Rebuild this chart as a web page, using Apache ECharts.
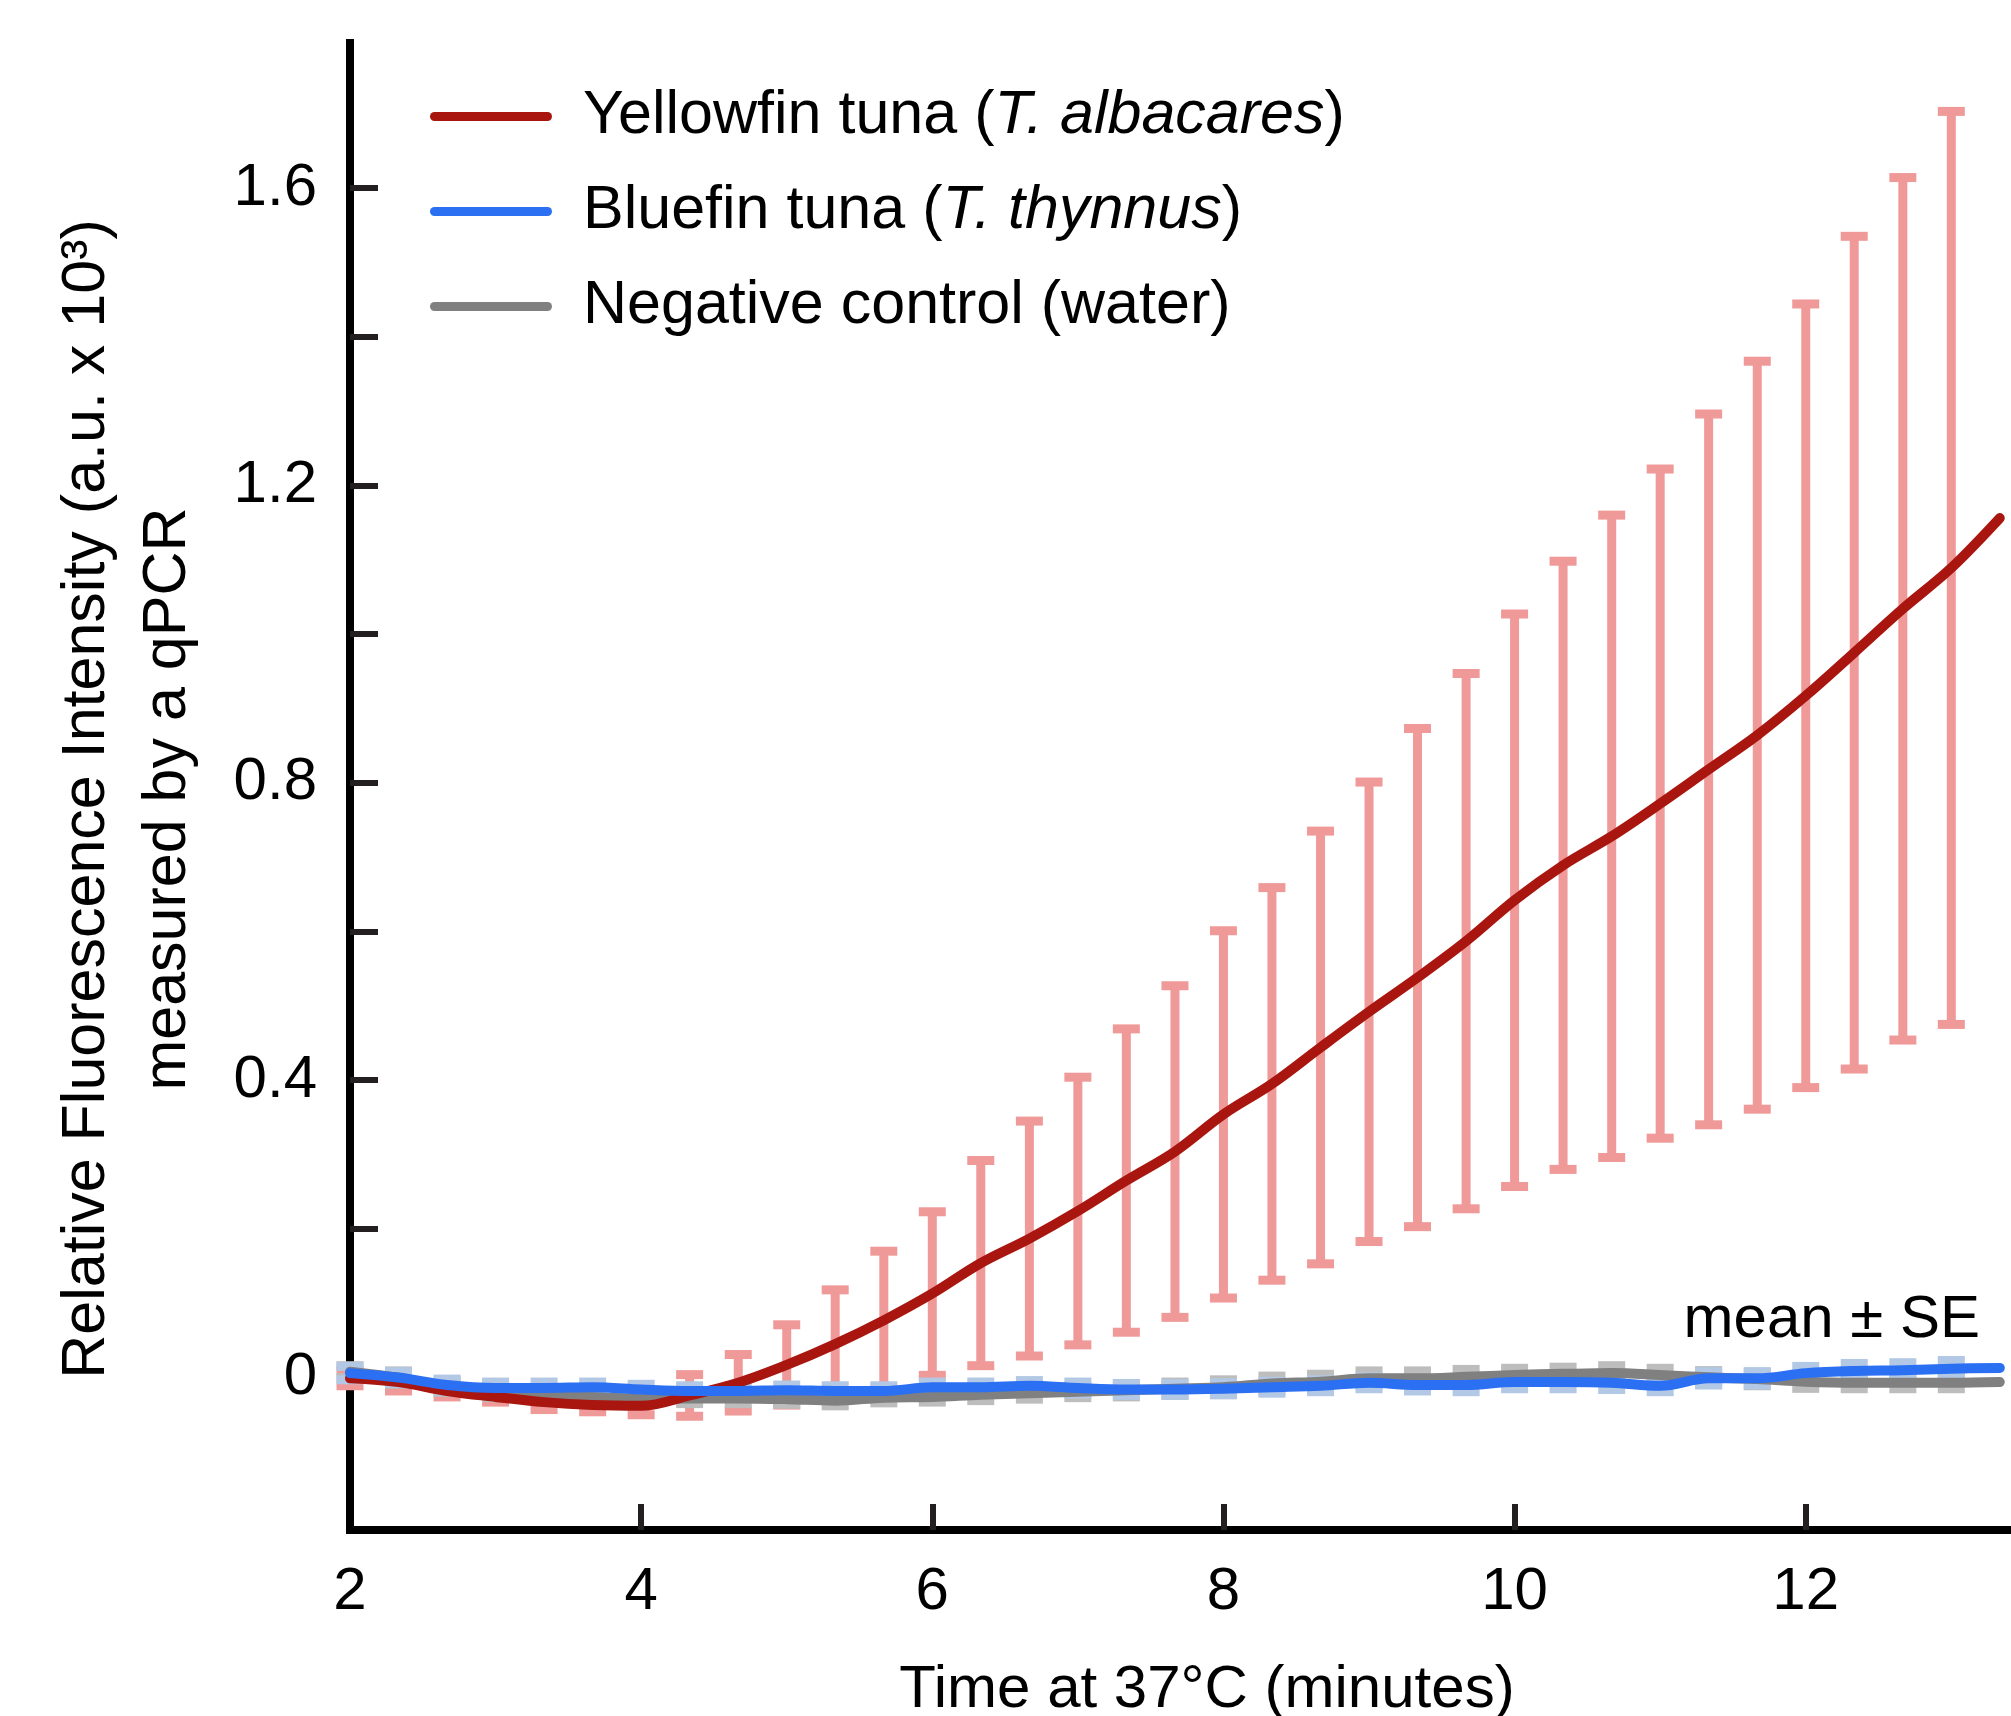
<!DOCTYPE html>
<html>
<head>
<meta charset="utf-8">
<title>qPCR tuna</title>
<script src="https://cdn.jsdelivr.net/npm/echarts@6/dist/echarts.min.js"></script>
<style>
    html, body { margin: 0; padding: 0; background: #fff; }
    #main { width: 2011px; height: 1716px; }
</style>
</head>
<body>
<div id="main"></div>
<script>
// time points (minutes), every 20 s
var time = [2, 2.333, 2.667, 3, 3.333, 3.667, 4, 4.333, 4.667, 5, 5.333, 5.667, 6, 6.333, 6.667,
    7, 7.333, 7.667, 8, 8.333, 8.667, 9, 9.333, 9.667, 10, 10.333, 10.667, 11, 11.333, 11.667,
    12, 12.333, 12.667, 13, 13.333];

// Yellowfin tuna (T. albacares)
var yellowfinMean = [-0.001, -0.006, -0.018, -0.026, -0.033, -0.037, -0.038, -0.024, -0.007, 0.017,
    0.045, 0.077, 0.113, 0.154, 0.187, 0.224, 0.265, 0.304, 0.354, 0.395,
    0.444, 0.492, 0.538, 0.587, 0.642, 0.689, 0.728, 0.772, 0.818, 0.864,
    0.917, 0.975, 1.034, 1.089, 1.156];
var yellowfinSE = [0.010, 0.012, 0.008, 0.007, 0.010, 0.009, 0.012, 0.028, 0.038, 0.054,
    0.073, 0.093, 0.110, 0.138, 0.158, 0.180, 0.204, 0.223, 0.247, 0.264,
    0.291, 0.309, 0.335, 0.360, 0.385, 0.409, 0.432, 0.450, 0.478, 0.503,
    0.527, 0.560, 0.580, 0.614];

// Bluefin tuna (T. thynnus)
var bluefinMean = [0.006, 0.000, -0.010, -0.014, -0.014, -0.013, -0.016, -0.018, -0.018, -0.017,
    -0.018, -0.018, -0.013, -0.013, -0.011, -0.014, -0.016, -0.016, -0.015, -0.013,
    -0.011, -0.007, -0.010, -0.010, -0.006, -0.006, -0.007, -0.011, -0.001, -0.001,
    0.006, 0.009, 0.010, 0.012, 0.013];
var bluefinSE = [0.009, 0.008, 0.008, 0.008, 0.008, 0.007, 0.007, 0.007, 0.007, 0.007,
    0.007, 0.007, 0.007, 0.007, 0.007, 0.008, 0.008, 0.008, 0.008, 0.008,
    0.008, 0.008, 0.008, 0.009, 0.009, 0.009, 0.009, 0.008, 0.009, 0.009,
    0.009, 0.010, 0.010, 0.011];

// Negative control (water)
var waterMean = [0.008, 0.000, -0.012, -0.019, -0.023, -0.026, -0.028, -0.028, -0.028, -0.029,
    -0.031, -0.027, -0.026, -0.023, -0.021, -0.019, -0.017, -0.015, -0.013, -0.008,
    -0.0055, -0.001, -0.001, 0.001, 0.0035, 0.005, 0.006, 0.0035, 0.0004, -0.002,
    -0.0055, -0.007, -0.007, -0.007, -0.006];
var waterSE = [0.008, 0.009, 0.008, 0.008, 0.008, 0.008, 0.007, 0.007, 0.007, 0.007,
    0.007, 0.007, 0.007, 0.008, 0.008, 0.008, 0.009, 0.009, 0.010, 0.010,
    0.010, 0.010, 0.010, 0.010, 0.009, 0.009, 0.010, 0.009, 0.009, 0.009,
    0.009, 0.008, 0.008, 0.008];

// axis ticks and labels
var xTicks = [4, 6, 8, 10, 12];
var xLabels = [2, 4, 6, 8, 10, 12];
var yTicks = [0, 0.2, 0.4, 0.6, 0.8, 1.0, 1.2, 1.4, 1.6];
var yLabels = [0, 0.4, 0.8, 1.2, 1.6];

var FONT = 'Liberation Sans, Arial, Helvetica, sans-serif';

function lineData(mean) {
    var d = [];
    for (var i = 0; i < mean.length; i++) {
        d.push([time[i], mean[i]]);
    }
    return d;
}

function errData(mean, se) {
    var d = [];
    for (var i = 0; i < se.length; i++) {
        d.push([time[i], mean[i] - se[i], mean[i] + se[i]]);
    }
    return d;
}

// error bar: stem + two caps
function errRender(color) {
    return function (params, api) {
        var x = api.value(0);
        var lo = api.coord([x, api.value(1)]);
        var hi = api.coord([x, api.value(2)]);
        var stemW = 9, capW = 27, capH = 9;
        return {
            type: 'group',
            children: [
                {type: 'rect', shape: {x: hi[0] - stemW / 2, y: hi[1], width: stemW, height: lo[1] - hi[1]}, style: {fill: color}},
                {type: 'rect', shape: {x: hi[0] - capW / 2, y: hi[1] - capH / 2, width: capW, height: capH}, style: {fill: color}},
                {type: 'rect', shape: {x: lo[0] - capW / 2, y: lo[1] - capH / 2, width: capW, height: capH}, style: {fill: color}}
            ]
        };
    };
}

function lineSeries(name, color, mean) {
    return {
        name: name,
        type: 'line',
        data: lineData(mean),
        symbol: 'none',
        showSymbol: false,
        smooth: 0.35,
        itemStyle: {color: color},
        lineStyle: {color: color, width: 10, cap: 'round', join: 'round'}
    };
}

var legendNames = {
    'Yellowfin tuna (T. albacares)': '{n|Yellowfin tuna (}{i|T. albacares}{n|)}',
    'Bluefin tuna (T. thynnus)': '{n|Bluefin tuna (}{i|T. thynnus}{n|)}',
    'Negative control (water)': '{n|Negative control (water)}'
};

var myChart = echarts.init(document.getElementById('main'));
myChart.setOption({
    animation: false,
    backgroundColor: '#fff',
    grid: {left: 350, right: 0, top: 43, bottom: 186, containLabel: false},
    legend: {
        data: ['Yellowfin tuna (T. albacares)', 'Bluefin tuna (T. thynnus)', 'Negative control (water)'],
        orient: 'vertical',
        left: 430,
        top: 86,
        padding: 0,
        itemGap: 34,
        itemWidth: 122,
        itemHeight: 9,
        icon: 'path://M4.5,0 L117.5,0 A4.5,4.5 0 0 1 117.5,9 L4.5,9 A4.5,4.5 0 0 1 4.5,0 Z',
        formatter: function (name) {
            return legendNames[name];
        },
        textStyle: {
            color: '#000',
            fontSize: 61,
            fontFamily: FONT,
            padding: [0, 0, 0, 26],
            rich: {
                n: {fontSize: 61, fontFamily: FONT, color: '#000', lineHeight: 60},
                i: {fontSize: 61, fontFamily: FONT, color: '#000', fontStyle: 'italic', lineHeight: 60}
            }
        }
    },
    xAxis: {
        type: 'value',
        min: 2,
        max: 13.41,
        splitLine: {show: false},
        axisLine: {onZero: false, lineStyle: {color: '#000', width: 8}},
        axisTick: {inside: true, length: 26, customValues: xTicks, lineStyle: {color: '#231f20', width: 6}},
        axisLabel: {customValues: xLabels, fontSize: 60, fontFamily: FONT, color: '#000', margin: 32}
    },
    yAxis: {
        type: 'value',
        min: -0.205,
        max: 1.795,
        splitLine: {show: false},
        axisLine: {onZero: false, lineStyle: {color: '#000', width: 8, cap: 'square'}},
        axisTick: {inside: true, length: 28, customValues: yTicks, lineStyle: {color: '#231f20', width: 6}},
        axisLabel: {
            customValues: yLabels,
            fontSize: 60,
            fontFamily: FONT,
            color: '#000',
            margin: 33,
            formatter: function (v) {
                return v === 0 ? '0' : v.toFixed(1);
            }
        }
    },
    graphic: [
        {
            type: 'text', x: 87, y: 799, rotation: Math.PI / 2,
            style: {text: 'Relative Fluorescence Intensity (a.u. x 10³)', fontSize: 61, fontFamily: FONT, fill: '#000',
                align: 'center', verticalAlign: 'middle', textAlign: 'center', textVerticalAlign: 'middle'}
        },
        {
            type: 'text', x: 168, y: 799, rotation: Math.PI / 2,
            style: {text: 'measured by a qPCR', fontSize: 61, fontFamily: FONT, fill: '#000',
                align: 'center', verticalAlign: 'middle', textAlign: 'center', textVerticalAlign: 'middle'}
        },
        {
            type: 'text', x: 1207, y: 1690,
            style: {text: 'Time at 37°C (minutes)', fontSize: 60, fontFamily: FONT, fill: '#000',
                align: 'center', verticalAlign: 'middle', textAlign: 'center', textVerticalAlign: 'middle'}
        },
        {
            type: 'text', x: 1980, y: 1320,
            style: {text: 'mean ± SE', fontSize: 60, fontFamily: FONT, fill: '#000',
                align: 'right', verticalAlign: 'middle', textAlign: 'right', textVerticalAlign: 'middle'}
        }
    ],
    series: [
        {name: 'yfErr', type: 'custom', renderItem: errRender('#ef9999'), data: errData(yellowfinMean, yellowfinSE), encode: {x: 0, y: [1, 2]}},
        {name: 'waterErr', type: 'custom', renderItem: errRender('#bdbdbd'), data: errData(waterMean, waterSE), encode: {x: 0, y: [1, 2]}},
        {name: 'bfErr', type: 'custom', renderItem: errRender('#b3c8e4'), data: errData(bluefinMean, bluefinSE), encode: {x: 0, y: [1, 2]}},
        lineSeries('Negative control (water)', '#808080', waterMean),
        lineSeries('Yellowfin tuna (T. albacares)', '#a9160f', yellowfinMean),
        lineSeries('Bluefin tuna (T. thynnus)', '#2b6ff2', bluefinMean)
    ]
});
</script>
</body>
</html>
